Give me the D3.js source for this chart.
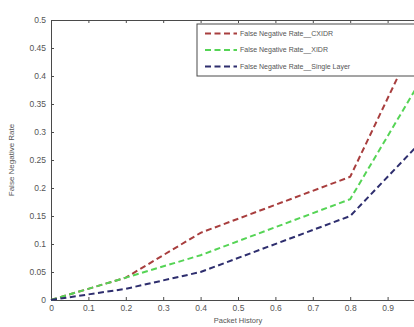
<!DOCTYPE html>
<html>
<head>
<meta charset="utf-8">
<script src="https://cdn.jsdelivr.net/npm/d3@7"></script>
<style>
html,body{margin:0;padding:0;background:#fff;overflow:hidden;}
svg{display:block;}
</style>
</head>
<body>
<svg id="chart" width="414" height="327"></svg>
<script>
const xValues = [0, 0.2, 0.4, 0.8, 1.0];
const seriesNames = ["False Negative Rate__CXIDR", "False Negative Rate__XIDR", "False Negative Rate__Single Layer"];
const cxidr = [0, 0.04, 0.12, 0.22, 0.5];
const xidr = [0, 0.04, 0.08, 0.18, 0.405];
const singleLayer = [0, 0.02, 0.05, 0.15, 0.29];
const xTicks = [0, 0.1, 0.2, 0.3, 0.4, 0.5, 0.6, 0.7, 0.8, 0.9];
const yTicks = [0, 0.05, 0.1, 0.15, 0.2, 0.25, 0.3, 0.35, 0.4, 0.45, 0.5];
const xLabel = "Packet History";
const yLabel = "False Negative Rate";

const colors = ["#a83e3e", "#55d455", "#2e2e6e"];
const allSeries = [cxidr, xidr, singleLayer];

const svg = d3.select("#chart");
const m = {left: 51, top: 20};
const W = 374, H = 280;
const x = d3.scaleLinear().domain([0, 1]).range([m.left, m.left + W]);
const y = d3.scaleLinear().domain([0, 0.5]).range([m.top + H, m.top]);
const fmt = d => String(+d.toFixed(2));

const axisColor = "#4a4a4a";
const textColor = "#555";
const tickFont = "Liberation Sans, Arial, sans-serif";

function styleAxis(g, showLabels) {
  g.selectAll(".domain").attr("stroke", axisColor).attr("stroke-width", 1);
  g.selectAll(".tick line").attr("stroke", axisColor);
  g.selectAll(".tick text").attr("fill", textColor).attr("font-size", 8.5).attr("font-family", tickFont);
  if (!showLabels) g.selectAll(".tick text").remove();
}

// bottom
svg.append("g").attr("transform", `translate(0,${m.top + H})`)
  .call(d3.axisBottom(x).tickValues(xTicks).tickFormat(fmt).tickSizeInner(-3).tickSizeOuter(0).tickPadding(5))
  .call(g => styleAxis(g, true));
// top
svg.append("g").attr("transform", `translate(0,${m.top})`)
  .call(d3.axisTop(x).tickValues(xTicks).tickFormat(fmt).tickSizeInner(-3).tickSizeOuter(0))
  .call(g => styleAxis(g, false));
// left
svg.append("g").attr("transform", `translate(${m.left},0)`)
  .call(d3.axisLeft(y).tickValues(yTicks).tickFormat(fmt).tickSizeInner(-3).tickSizeOuter(0).tickPadding(5))
  .call(g => styleAxis(g, true));
// right
svg.append("g").attr("transform", `translate(${m.left + W},0)`)
  .call(d3.axisRight(y).tickValues(yTicks).tickFormat(fmt).tickSizeInner(-3).tickSizeOuter(0))
  .call(g => styleAxis(g, false));

// lines
const line = d3.line().x((d, i) => x(xValues[i])).y(d => y(d));
allSeries.forEach((s, i) => {
  svg.append("path").datum(s)
    .attr("fill", "none")
    .attr("stroke", colors[i])
    .attr("stroke-width", 2)
    .attr("stroke-dasharray", "6,3.5")
    .attr("d", line);
});

// legend
const lg = svg.append("g");
const lx = 197, ly = 24, lw = 240, lh = 52;
lg.append("rect").attr("x", lx).attr("y", ly).attr("width", lw).attr("height", lh)
  .attr("fill", "#fff").attr("stroke", axisColor).attr("stroke-width", 1);
seriesNames.forEach((name, i) => {
  const yy = ly + 9.5 + i * 16.5;
  lg.append("line").attr("x1", lx + 8).attr("x2", lx + 40).attr("y1", yy).attr("y2", yy)
    .attr("stroke", colors[i]).attr("stroke-width", 1.8).attr("stroke-dasharray", "6,3.5");
  lg.append("text").attr("x", lx + 43).attr("y", yy).attr("dy", "0.35em")
    .attr("font-size", 7).attr("font-family", tickFont).attr("fill", textColor).text(name);
});

// axis labels
svg.append("text").attr("x", x(0.5)).attr("y", 323).attr("text-anchor", "middle")
  .attr("font-size", 7.5).attr("font-family", tickFont).attr("fill", textColor).text(xLabel);
svg.append("text").attr("transform", `translate(14,${y(0.25)}) rotate(-90)`).attr("text-anchor", "middle")
  .attr("font-size", 8).attr("font-family", tickFont).attr("fill", textColor).text(yLabel);
</script>
</body>
</html>
